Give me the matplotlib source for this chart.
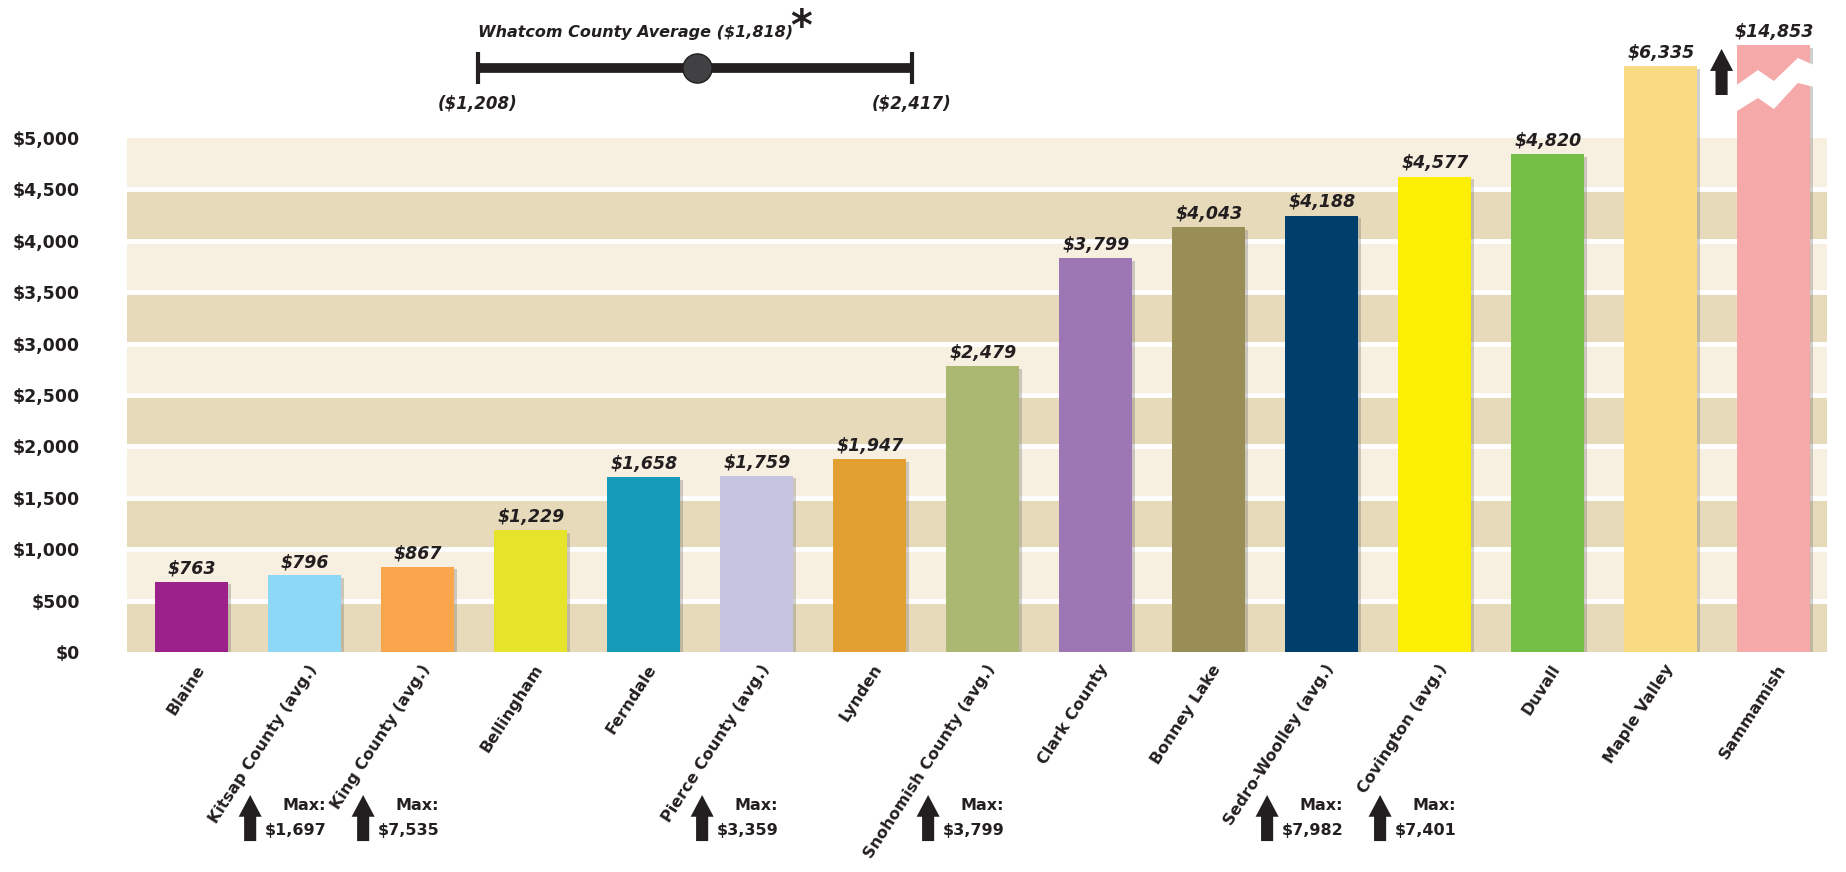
import matplotlib.pyplot as plt
import matplotlib.patheffects as pe
from matplotlib.patches import FancyArrow, Polygon
from matplotlib.transforms import blended_transform_factory, ScaledTranslation


cities = [
    "Blaine",
    "Kitsap County (avg.)",
    "King County (avg.)",
    "Bellingham",
    "Ferndale",
    "Pierce County (avg.)",
    "Lynden",
    "Snohomish County (avg.)",
    "Clark County",
    "Bonney Lake",
    "Sedro-Woolley (avg.)",
    "Covington (avg.)",
    "Duvall",
    "Maple Valley",
    "Sammamish",
]
# bar heights as drawn in the original graphic (they don't quite match the printed labels)
heights = [685, 745, 830, 1185, 1700, 1715, 1875, 2780, 3835, 4135, 4245, 4625, 4845, 5700, 5905]
value_labels = [
    "$763", "$796", "$867", "$1,229", "$1,658", "$1,759", "$1,947", "$2,479",
    "$3,799", "$4,043", "$4,188", "$4,577", "$4,820", "$6,335", "$14,853",
]
colors = [
    "#9c218a", "#8dd8f6", "#f9a54b", "#e6e32b", "#169bb8", "#c6c4e1", "#e2a032",
    "#abb872", "#9c77b4", "#9a8e57", "#003e6b", "#fcef03", "#75bf47", "#f9db83", "#f5a9a9",
]

max_cities = [
    "Kitsap County (avg.)",
    "King County (avg.)",
    "Pierce County (avg.)",
    "Snohomish County (avg.)",
    "Sedro-Woolley (avg.)",
    "Covington (avg.)",
]
max_values = ["$1,697", "$7,535", "$3,359", "$3,799", "$7,982", "$7,401"]

whatcom_low = 1208
whatcom_avg = 1818
whatcom_high = 2417

yticks = list(range(0, 5001, 500))

ink = "#231f20"
band_light = "#f7efe0"
band_dark = "#e7dabb"

fig = plt.figure(figsize=(18.46, 8.72), dpi=100)
ax = fig.add_axes([0.0688, 0.2523, 0.9209, 0.7477])

x = list(range(len(cities)))
bar_w = 0.646

# striped background
for k in range(len(yticks) - 1):
    ax.axhspan(yticks[k], yticks[k + 1], color=band_dark if k % 2 == 0 else band_light, lw=0, zorder=0)
for v in yticks[1:-1]:
    ax.axhline(v, color="white", lw=3.5, zorder=1)

shadow = [pe.SimplePatchShadow(offset=(2, -2), shadow_rgbFace="#666666", alpha=0.3), pe.Normal()]
bars = ax.bar(x, heights, width=bar_w, color=colors, zorder=3, path_effects=shadow)

for xi, h, lab in zip(x, heights, value_labels):
    ax.annotate(lab, (xi, h), xytext=(0, 3), textcoords="offset points", ha="center", va="bottom",
                fontsize=12.5, fontweight="bold", fontstyle="italic", color=ink, zorder=5)

# broken bar for Sammamish
last = x[-1]
l, r = last - bar_w / 2 - 0.03, last + bar_w / 2 + 0.03
fx = [0, 0.3, 0.5, 0.8, 1.0]
top_edge = [5496, 5661, 5554, 5778, 5710]
bot_edge = [5243, 5389, 5282, 5535, 5496]
pts = [(l + f * (r - l), t) for f, t in zip(fx, top_edge)]
pts += [(l + f * (r - l), b) for f, b in reversed(list(zip(fx, bot_edge)))]
ax.add_patch(Polygon(pts, closed=True, color="white", zorder=4, lw=0))
ax.add_patch(FancyArrow(last - bar_w / 2 - 0.14, 5418, 0, 448, width=0.107, head_width=0.204,
                        head_length=214, length_includes_head=True, color=ink, lw=0, zorder=5))

ax.set_xlim(-0.575, 14.47)
ax.set_ylim(0, 6342)
ax.set_yticks(yticks)
ax.set_yticklabels([f"${v:,}" for v in yticks], fontsize=12.5, fontweight="bold", color=ink)
ax.tick_params(axis="y", length=0, pad=34)
ax.tick_params(axis="x", length=0, pad=10)
ax.set_xticks(x)
ax.set_xticklabels(cities, fontsize=11.5, fontweight="bold", color=ink)
shift = ScaledTranslation(9 / 100, 0, fig.dpi_scale_trans)
for lab in ax.get_xticklabels():
    lab.set_rotation(57)
    lab.set_ha("right")
    lab.set_va("center")
    lab.set_rotation_mode("anchor")
    lab.set_transform(lab.get_transform() + shift)
for s in ax.spines.values():
    s.set_visible(False)

# max markers under some labels
trans = blended_transform_factory(ax.transData, ax.transAxes)
for city, mv in zip(max_cities, max_values):
    xi = cities.index(city)
    ax.add_patch(FancyArrow(xi - 0.485, -0.290, 0, 0.0706, width=0.107, head_width=0.204,
                            head_length=0.0333, length_includes_head=True, transform=trans,
                            clip_on=False, color=ink, lw=0))
    ax.text(xi + 0.19, -0.235, "Max:", transform=trans, ha="right", va="center",
            fontsize=11.5, fontweight="bold", color=ink)
    ax.text(xi + 0.19, -0.274, mv, transform=trans, ha="right", va="center",
            fontsize=11.5, fontweight="bold", color=ink)

# Whatcom county average range
ax2 = fig.add_axes([478 / 1846, 1 - 120 / 872, (912 - 478) / 1846, 120 / 872])
ax2.set_xlim(whatcom_low, whatcom_high)
ax2.set_ylim(0, 1)
ax2.axis("off")
ax2.plot([whatcom_low, whatcom_high], [0.433, 0.433], color=ink, lw=7, solid_capstyle="butt")
ax2.vlines([whatcom_low, whatcom_high], 0.3, 0.567, color=ink, lw=3, clip_on=False)
ax2.plot(whatcom_avg, 0.433, "o", ms=21, mfc="#414042", mec=ink, mew=1)
t = ax2.text(whatcom_low, 0.725, f"Whatcom County Average (${whatcom_avg:,})", ha="left", va="center",
             fontsize=11.5, fontweight="bold", fontstyle="italic", color=ink)
ax2.annotate("*", xy=(1, 0.55), xycoords=t, xytext=(-2, -12), textcoords="offset points",
             ha="left", va="bottom", fontsize=30, fontweight="bold", color=ink)
for v in (whatcom_low, whatcom_high):
    ax2.text(v, 0.133, f"(${v:,})", ha="center", va="center", fontsize=12,
             fontweight="bold", fontstyle="italic", color=ink, clip_on=False)

fig.savefig("out.png", dpi=100)
